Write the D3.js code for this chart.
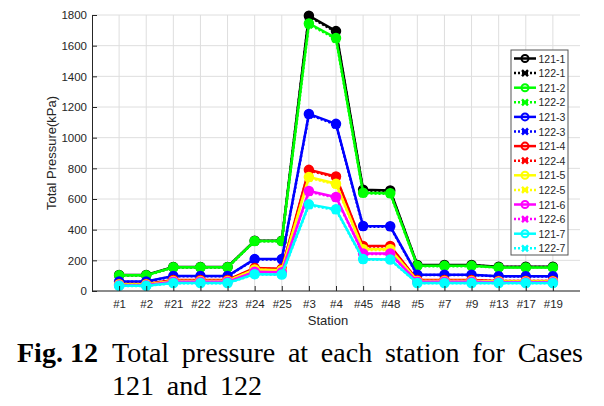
<!DOCTYPE html>
<html>
<head>
<meta charset="utf-8">
<script src="https://cdn.jsdelivr.net/npm/d3@7"></script>
<style>
  body { margin: 0; background: #fff; }
  svg { display: block; }
</style>
</head>
<body>
<div class="chart"></div>
<script>
// data
var stations = ['#1','#2','#21','#22','#23','#24','#25','#3','#4','#45','#48','#5','#7','#9','#13','#17','#19'];
var yTicks = [0,200,400,600,800,1000,1200,1400,1600,1800];

var c121_1 = [104,104,157,157,157,328,328,1795,1695,660,656,170,170,170,158,158,158];
var c122_1 = [102,102,155,155,155,326,326,1790,1690,655,652,168,168,168,156,156,156];
var c121_2 = [102,102,155,155,155,326,326,1745,1650,641,638,164,164,164,154,154,154];
var c122_2 = [101,101,154,154,154,324,324,1738,1645,636,634,162,162,162,153,153,153];
var c121_3 = [62,62,98,98,98,208,208,1155,1090,424,422,106,106,106,97,97,97];
var c122_3 = [60,60,96,96,96,206,206,1150,1085,420,418,104,104,104,95,95,95];
var c121_4 = [45,45,72,72,72,150,145,790,747,294,294,72,72,72,66,66,66];
var c122_4 = [44,44,70,70,70,147,142,785,742,290,290,70,70,70,65,65,65];
var c121_5 = [42,42,66,66,66,140,136,743,700,272,272,66,66,66,62,62,62];
var c122_5 = [41,41,65,65,65,138,134,738,695,268,268,65,65,65,61,61,61];
var c121_6 = [38,38,60,60,60,125,122,652,613,245,244,60,60,60,57,57,57];
var c122_6 = [37,37,59,59,59,123,120,647,608,242,241,59,59,59,56,56,56];
var c121_7 = [34,34,52,52,52,110,108,565,533,208,206,52,52,52,52,52,52];
var c122_7 = [33,33,51,51,51,108,106,560,528,205,203,51,51,51,51,51,51];

var series = [
  {name: '121-1', color: '#000000', values: c121_1, dotted: false},
  {name: '122-1', color: '#000000', values: c122_1, dotted: true},
  {name: '121-2', color: '#00ff00', values: c121_2, dotted: false},
  {name: '122-2', color: '#00ff00', values: c122_2, dotted: true},
  {name: '121-3', color: '#0000ff', values: c121_3, dotted: false},
  {name: '122-3', color: '#0000ff', values: c122_3, dotted: true},
  {name: '121-4', color: '#ff0000', values: c121_4, dotted: false},
  {name: '122-4', color: '#ff0000', values: c122_4, dotted: true},
  {name: '121-5', color: '#ffff00', values: c121_5, dotted: false},
  {name: '122-5', color: '#ffff00', values: c122_5, dotted: true},
  {name: '121-6', color: '#ff00ff', values: c121_6, dotted: false},
  {name: '122-6', color: '#ff00ff', values: c122_6, dotted: true},
  {name: '121-7', color: '#00ffff', values: c121_7, dotted: false},
  {name: '122-7', color: '#00ffff', values: c122_7, dotted: true}
];

var width = 604, height = 406;
var plotLeft = 92, plotRight = 580, plotTop = 15, plotBottom = 291;
var font = 'Liberation Sans, Arial, Helvetica, sans-serif';
var ink = '#262626';

var svg = d3.select('.chart')
            .append('svg')
            .attr('width', width)
            .attr('height', height);

var x = d3.scalePoint().domain(stations).range([plotLeft, plotRight]).padding(1);
var y = d3.scaleLinear().domain([0, 1800]).range([plotBottom, plotTop]);

// grid
var grid = svg.append('g').attr('stroke', '#dedede').attr('stroke-width', 1);
grid.selectAll('.gx').data(stations).enter().append('line')
    .attr('x1', function(d) { return x(d); }).attr('x2', function(d) { return x(d); })
    .attr('y1', plotTop).attr('y2', plotBottom);
grid.selectAll('.gy').data(yTicks).enter().append('line')
    .attr('x1', plotLeft).attr('x2', plotRight)
    .attr('y1', function(d) { return y(d); }).attr('y2', function(d) { return y(d); });

// lines and markers
var line = d3.line()
             .x(function(d, i) { return x(stations[i]); })
             .y(function(d) { return y(d); });

series.forEach(function(s) {
  var g = svg.append('g');
  g.append('path')
   .attr('d', line(s.values))
   .attr('fill', 'none')
   .attr('stroke', s.color)
   .attr('stroke-width', 2.5)
   .attr('stroke-dasharray', s.dotted ? '2,2' : null);
  if (s.dotted) {
    g.selectAll('path.m').data(s.values).enter().append('path')
     .attr('d', function(d, i) {
       var cx = x(stations[i]), cy = y(d), r = 3.5;
       return 'M' + (cx - r) + ',' + (cy - r) + 'L' + (cx + r) + ',' + (cy + r) +
              'M' + (cx - r) + ',' + (cy + r) + 'L' + (cx + r) + ',' + (cy - r);
     })
     .attr('stroke', s.color).attr('stroke-width', 2.5);
  } else {
    g.selectAll('circle').data(s.values).enter().append('circle')
     .attr('cx', function(d, i) { return x(stations[i]); })
     .attr('cy', function(d) { return y(d); })
     .attr('r', 4.5)
     .attr('fill', s.color)
     .attr('stroke', s.color)
     .attr('stroke-width', 1.5);
  }
});

// axes
var yAxis = d3.axisLeft(y).tickValues(yTicks).tickFormat(d3.format('d'))
              .tickSizeInner(-5).tickSizeOuter(0).tickPadding(5);
var gy = svg.append('g').attr('transform', 'translate(' + plotLeft + ',0)').call(yAxis);
var xAxis = d3.axisBottom(x).tickSizeInner(-5).tickSizeOuter(0).tickPadding(9);
var gx = svg.append('g').attr('transform', 'translate(0,' + plotBottom + ')').call(xAxis);
gx.select('.domain').attr('d', 'M' + plotLeft + ',0H' + plotRight);
[gy, gx].forEach(function(g) {
  g.selectAll('path, line').attr('stroke', ink).attr('stroke-width', 1);
  g.selectAll('text').attr('fill', ink).style('font-family', font).style('font-size', '11.5px');
});

svg.append('text')
   .attr('transform', 'translate(56,' + ((plotTop + plotBottom) / 2) + ') rotate(-90)')
   .attr('text-anchor', 'middle')
   .attr('fill', ink)
   .style('font-family', font).style('font-size', '13px')
   .text('Total Pressure(kPa)');

svg.append('text')
   .attr('x', (plotLeft + plotRight) / 2 - 8).attr('y', 325)
   .attr('text-anchor', 'middle')
   .attr('fill', ink)
   .style('font-family', font).style('font-size', '13px')
   .text('Station');

// legend
var lx = 511, ly = 50, rowH = 14.6;
var legend = svg.append('g');
legend.append('rect')
      .attr('x', lx).attr('y', ly)
      .attr('width', 57).attr('height', 205)
      .attr('fill', '#fff').attr('stroke', '#555').attr('stroke-width', 1);
var rows = legend.selectAll('g.row').data(series).enter().append('g')
      .attr('transform', function(d, i) { return 'translate(' + lx + ',' + (ly + 8.5 + i * rowH) + ')'; });
rows.append('line')
    .attr('x1', 3).attr('x2', 25).attr('y1', 0).attr('y2', 0)
    .attr('stroke', function(d) { return d.color; })
    .attr('stroke-width', 2.5)
    .attr('stroke-dasharray', function(d) { return d.dotted ? '2,2' : null; });
rows.filter(function(d) { return !d.dotted; }).append('circle')
    .attr('cx', 14).attr('cy', 0).attr('r', 3.5)
    .attr('fill', 'none').attr('stroke', function(d) { return d.color; }).attr('stroke-width', 2);
rows.filter(function(d) { return d.dotted; }).append('path')
    .attr('d', 'M11,-3L17,3M11,3L17,-3')
    .attr('stroke', function(d) { return d.color; }).attr('stroke-width', 2.5);
rows.append('text')
    .attr('x', 27.5).attr('y', 4)
    .attr('fill', ink)
    .style('font-family', font).style('font-size', '10.5px')
    .text(function(d) { return d.name; });

// caption
var serif = 'Liberation Serif, Times New Roman, serif';
svg.append('text')
   .attr('x', 17).attr('y', 362)
   .attr('fill', '#000')
   .style('font-family', serif).style('font-size', '28px').style('font-weight', 'bold')
   .text('Fig. 12');
var cap1 = svg.append('text')
   .attr('x', 112).attr('y', 362)
   .attr('fill', '#000')
   .style('font-family', serif).style('font-size', '28px')
   .text('Total pressure at each station for Cases');
var w = cap1.node().getComputedTextLength();
var gaps = 6;
var ws = Math.max(0, (583 - 112 - w) / gaps);
cap1.attr('word-spacing', ws);
svg.append('text')
   .attr('x', 112).attr('y', 395)
   .attr('fill', '#000')
   .attr('word-spacing', ws)
   .style('font-family', serif).style('font-size', '28px')
   .text('121 and 122');
</script>
</body>
</html>
